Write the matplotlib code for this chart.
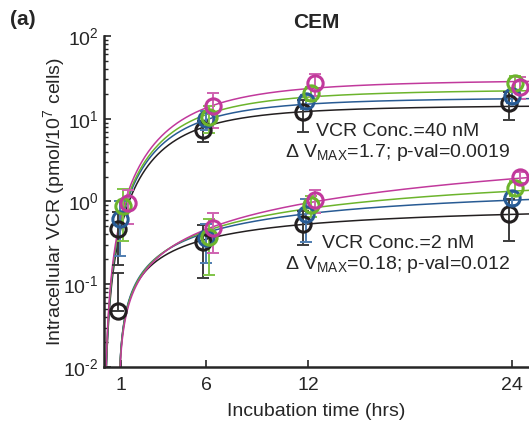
import numpy as np
import matplotlib
matplotlib.use("Agg")
import matplotlib.pyplot as plt
from matplotlib.ticker import FuncFormatter

plt.rcParams['font.family'] = ['Liberation Sans', 'DejaVu Sans']
plt.rcParams['mathtext.fontset'] = 'custom'
plt.rcParams['mathtext.rm'] = 'Liberation Sans'
plt.rcParams['mathtext.it'] = 'Liberation Sans:italic'
plt.rcParams['mathtext.bf'] = 'Liberation Sans:bold'
plt.rcParams['axes.unicode_minus'] = False

# ---------------- data ----------------
series_names = ["black", "blue", "green", "magenta"]
series_colors = ["#231f20", "#285b94", "#6cb42c", "#c1399c"]
bar_colors = ["#3c3c3c", "#4f7db0", "#80c447", "#cf62b0"]

# 40 nM measurements (x = plotted time, hrs)
hi_x = [[0.84, 5.8, 11.7, 23.8],
        [0.94, 6.0, 11.9, 24.0],
        [1.14, 6.2, 12.2, 24.2],
        [1.43, 6.43, 12.4, 24.45]]
hi_y = [[0.46, 7.4, 11.9, 15.5],
        [0.61, 9.9, 16.2, 18.6],
        [0.88, 10.5, 20.4, 26.9],
        [0.95, 14.1, 26.9, 24.5]]
hi_err = [[0.29, 2.1, 4.9, 5.8],
          [0.39, 2.5, 3.0, 3.0],
          [0.55, 3.7, 4.0, 6.0],
          [0.42, 6.3, 7.9, 7.3]]

# 2 nM measurements
lo_x = [[0.84, 5.8, 11.7, 23.8],
        [6.0, 11.9, 24.0],
        [6.2, 12.2, 24.2],
        [6.43, 12.4, 24.45]]
lo_y = [[0.047, 0.32, 0.53, 0.70],
        [0.36, 0.70, 1.11],
        [0.37, 0.90, 1.46],
        [0.48, 1.05, 1.98]]
lo_err = [[0.091, 0.20, 0.23, 0.37],
          [0.18, 0.38, 0.20],
          [0.24, 0.25, 0.30],
          [0.24, 0.33, 0.30]]

# fitted kinetic curves: y = V (t-t0)^n / (K^n + (t-t0)^n)
hi_V = [14.83, 18.4, 23.15, 30.3]
hi_K = [5.48, 5.68, 6.2, 6.69]
hi_t0 = [0.0, 0.0, 0.0, 0.0]
hi_n = [2.0, 2.0, 2.0, 2.0]
lo_V = [0.98, 1.80, 3.17, 16.4]
lo_K = [9.3, 17.0, 32.0, 179.0]
lo_t0 = [0.84, 0.84, 0.84, 0.84]
lo_n = [1.0, 1.0, 1.0, 1.0]

x_ticks = [1, 6, 12, 24]
y_ticks = [0.01, 0.1, 1, 10, 100]
title = "CEM"
panel = "(a)"
xlabel = "Incubation time (hrs)"
ylabel = r"Intracellular VCR (pmol/10$^7$ cells)"
ann_hi = ["VCR Conc.=40 nM", r"Δ V$_{\mathrm{MAX}}$=1.7; p-val=0.0019"]
ann_lo = ["VCR Conc.=2 nM", r"Δ V$_{\mathrm{MAX}}$=0.18; p-val=0.012"]

# ---------------- figure ----------------
W, H = 529, 423
fig = plt.figure(figsize=(W / 100, H / 100), dpi=100)
ax = fig.add_axes([104 / W, 56 / H, 425 / W, 331 / H])
ax.set_yscale('log')
ax.set_xlim(0, 25)
ax.set_ylim(0.01, 100)

text_color = "#262626"

def model(t, V, K, t0, n):
    d = np.clip(t - t0, 0, None)
    return V * d ** n / (K ** n + d ** n)

t_grid = np.linspace(0.0, 25.0, 2000)
for i in range(4):
    c = series_colors[i]
    for V, K, t0, n in [(hi_V[i], hi_K[i], hi_t0[i], hi_n[i]),
                        (lo_V[i], lo_K[i], lo_t0[i], lo_n[i])]:
        yv = model(t_grid, V, K, t0, n)
        yv = np.where(yv > 0, yv, np.nan)
        ax.plot(t_grid, yv, color=c, lw=1.1, zorder=2)

for i in range(4):
    for xs, ys, es in [(hi_x[i], hi_y[i], hi_err[i]), (lo_x[i], lo_y[i], lo_err[i])]:
        xs = np.array(xs); ys = np.array(ys); es = np.array(es)
        lower = np.where(es >= ys, 0.0, es)
        ax.errorbar(xs, ys, yerr=[lower, es], fmt='none', ecolor=bar_colors[i],
                    elinewidth=1.4, capsize=4, capthick=1.4, zorder=3, clip_on=False)
        ax.plot(xs, ys, 'o', mfc='none', mec=series_colors[i], mew=2.2, ms=11,
                zorder=4, clip_on=False)

def log_fmt(v, pos):
    e = int(round(np.log10(v)))
    if e < 0:
        return r'$\mathdefault{10^{\text{-}%d}}$' % (-e)
    return r'$\mathdefault{10^{%d}}$' % e

ax.set_xticks(x_ticks)
ax.set_xticklabels([str(v) for v in x_ticks])
ax.set_yticks(y_ticks)
ax.yaxis.set_major_formatter(FuncFormatter(log_fmt))
ax.tick_params(axis='both', which='major', direction='in', length=5, width=1.2,
               labelsize=14, colors=text_color, pad=4)
ax.tick_params(axis='x', which='major', pad=7)
ax.tick_params(axis='y', which='minor', direction='in', length=3, width=1.0,
               colors=text_color)
ax.tick_params(axis='x', which='minor', bottom=False)

for s in ['top', 'right']:
    ax.spines[s].set_visible(False)
for s in ['left', 'bottom']:
    ax.spines[s].set_linewidth(1.8)
    ax.spines[s].set_color(text_color)

ax.set_xlabel(xlabel, fontsize=14, color=text_color, labelpad=7)
ax.set_ylabel(ylabel, fontsize=14, color=text_color)
ax.yaxis.set_label_coords(-0.088, 0.5)
ax.set_title(title, fontsize=15, fontweight='bold', color=text_color, pad=6)
fig.text(10 / W, 1 - 25 / H, panel, fontsize=15, fontweight='bold',
         color=text_color, va='baseline', ha='left')

ax.text(0.692, 0.698, ann_hi[0], transform=ax.transAxes, ha='center',
        va='baseline', fontsize=14, color=text_color)
ax.text(0.692, 0.635, ann_hi[1], transform=ax.transAxes, ha='center',
        va='baseline', fontsize=14, color=text_color)
ax.text(0.692, 0.360, ann_lo[0], transform=ax.transAxes, ha='center',
        va='baseline', fontsize=14, color=text_color)
ax.text(0.692, 0.296, ann_lo[1], transform=ax.transAxes, ha='center',
        va='baseline', fontsize=14, color=text_color)

fig.savefig("out.png", dpi=100)
